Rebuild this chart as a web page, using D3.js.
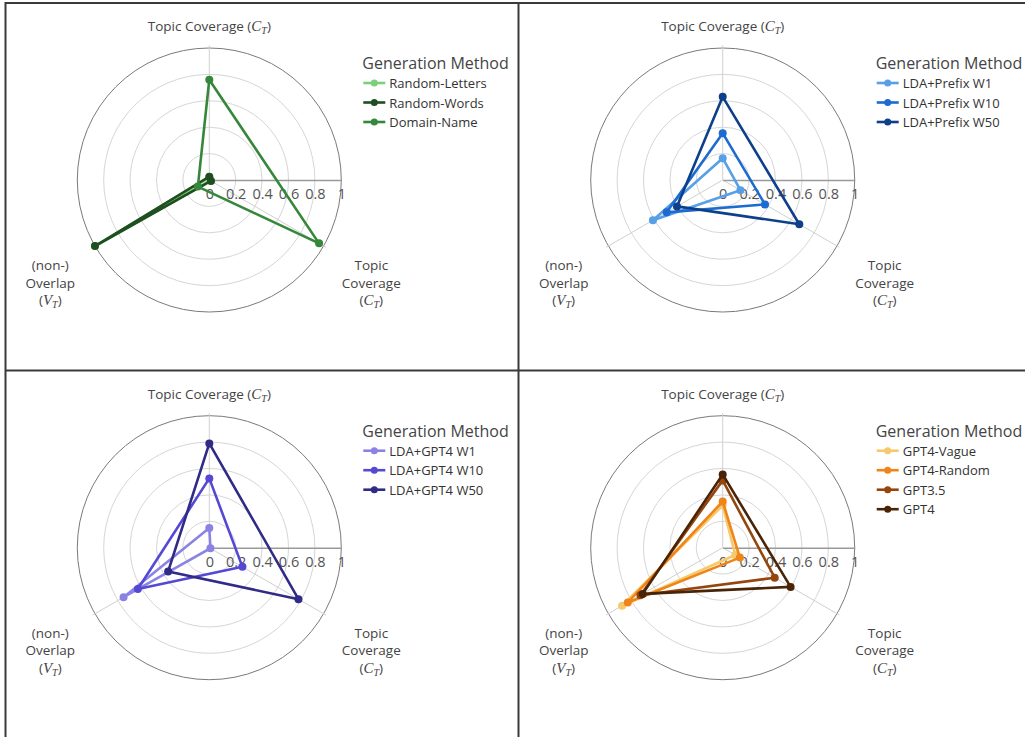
<!DOCTYPE html>
<html><head><meta charset="utf-8">
<script src="https://cdn.jsdelivr.net/npm/d3@7"></script>
<style>
body{margin:0;background:#fff;}
svg{display:block;font-family:"Open Sans",sans-serif;}
</style></head>
<body><svg id="c" width="1025" height="737"></svg>
<script>
// ---- data ----
const axisNames = ["Topic Coverage", "Topic Coverage", "(non-) Overlap"];
const axisSymbols = ["C", "C", "V"];
const tickValues = [0, 0.2, 0.4, 0.6, 0.8, 1];
const legendTitle = "Generation Method";

const p1Names = ["Random-Letters", "Random-Words", "Domain-Name"];
const p1Values = [[0.02, 0.01, 1.0], [0.025, 0.015, 1.0], [0.76, 0.96, 0.10]];
const p1Colors = ["#7ccf7c", "#1f4f20", "#35873a"];

const p2Names = ["LDA+Prefix W1", "LDA+Prefix W10", "LDA+Prefix W50"];
const p2Values = [[0.165, 0.155, 0.61], [0.355, 0.37, 0.49], [0.63, 0.67, 0.40]];
const p2Colors = ["#579fe6", "#1c6bd0", "#0d3f8a"];

const p3Names = ["LDA+GPT4 W1", "LDA+GPT4 W10", "LDA+GPT4 W50"];
const p3Values = [[0.15, 0.01, 0.75], [0.525, 0.29, 0.625], [0.79, 0.78, 0.36]];
const p3Colors = ["#8b83e3", "#5548d4", "#2f2b86"];

const p4Names = ["GPT4-Vague", "GPT4-Random", "GPT3.5", "GPT4"];
const p4Values = [[0.32, 0.11, 0.88], [0.35, 0.15, 0.83], [0.51, 0.455, 0.72], [0.555, 0.594, 0.70]];
const p4Colors = ["#f6c96c", "#ef8519", "#94460c", "#4a2406"];

// ---- drawing ----
const svg = d3.select("#c");
const R = 132;
const r = d3.scaleLinear().domain([0, 1]).range([0, R]);
const angles = [-90, 30, 150].map(a => a * Math.PI / 180);

// borders
const bc = "#3a3a3a";
svg.append("line").attr("x1", 5).attr("x2", 1025).attr("y1", 3).attr("y2", 3).attr("stroke", bc).attr("stroke-width", 2);
svg.append("line").attr("x1", 5.5).attr("x2", 5.5).attr("y1", 2).attr("y2", 737).attr("stroke", bc).attr("stroke-width", 2);
svg.append("line").attr("x1", 518.5).attr("x2", 518.5).attr("y1", 2).attr("y2", 737).attr("stroke", bc).attr("stroke-width", 2);
svg.append("line").attr("x1", 5).attr("x2", 1025).attr("y1", 370.5).attr("y2", 370.5).attr("stroke", bc).attr("stroke-width", 2);

function mathLabel(text, sym) {
  text.append("tspan").text("(");
  text.append("tspan").attr("font-family", "'Liberation Serif',serif").attr("font-style", "italic").attr("font-size", 15).text(sym);
  text.append("tspan").attr("font-family", "'Liberation Serif',serif").attr("font-style", "italic").attr("font-size", 10).attr("dy", 3).text("T");
  text.append("tspan").attr("dy", -3).text(")");
}

function panel(cx, cy, names, values, colors) {
  const g = svg.append("g").attr("transform", `translate(${cx},${cy})`);
  // grid circles
  g.selectAll("circle.grid").data(tickValues.slice(1)).join("circle")
    .attr("r", d => r(d)).attr("fill", "none")
    .attr("stroke", d => d === 1 ? "#7a7a7a" : "#d6d6d6").attr("stroke-width", 1);
  // spokes
  g.selectAll("line.spoke").data(angles).join("line")
    .attr("x1", 0).attr("y1", 0)
    .attr("x2", a => Math.cos(a) * r(1.02)).attr("y2", a => Math.sin(a) * r(1.02))
    .attr("stroke", "#d0d0d0").attr("stroke-width", 1);
  // radial axis
  const ax = g.append("g").call(d3.axisBottom(r).tickValues(tickValues).tickFormat(d3.format("~g")).tickSize(0).tickPadding(9));
  ax.select(".domain").attr("stroke", "#9a9a9a").attr("stroke-width", 1.5);
  ax.selectAll("text").attr("font-family", "'Open Sans',sans-serif").attr("font-size", 14.5).attr("fill", "#555");
  // axis labels
  const t0 = g.append("text").attr("x", 0).attr("y", -149).attr("text-anchor", "middle").attr("font-size", 13.5).attr("fill", "#444");
  t0.append("tspan").text(axisNames[0] + " ");
  mathLabel(t0, axisSymbols[0]);
  const side = [[162, axisNames[1].split(" "), axisSymbols[1]], [-159, axisNames[2].split(" "), axisSymbols[2]]];
  side.forEach(([dx, words, sym]) => {
    words.forEach((w, i) => {
      g.append("text").attr("x", dx).attr("y", 90 + i * 17.5).attr("text-anchor", "middle").attr("font-size", 13.5).attr("fill", "#444").text(w);
    });
    const t = g.append("text").attr("x", dx).attr("y", 125).attr("text-anchor", "middle").attr("font-size", 13.5).attr("fill", "#444");
    mathLabel(t, sym);
  });
  // series
  const line = d3.lineRadial().angle((d, i) => angles[i] + Math.PI / 2).radius(d => r(d)).curve(d3.curveLinearClosed);
  values.forEach((vals, si) => {
    g.append("path").attr("d", line(vals)).attr("fill", "none").attr("stroke", colors[si]).attr("stroke-width", 2.6).attr("stroke-linejoin", "round");
    g.selectAll(null).data(vals).join("circle")
      .attr("cx", (d, i) => Math.cos(angles[i]) * r(d)).attr("cy", (d, i) => Math.sin(angles[i]) * r(d))
      .attr("r", 4).attr("fill", colors[si]);
  });
  // legend
  const lg = g.append("g").attr("transform", "translate(153,0)");
  lg.append("text").attr("x", 0).attr("y", -111).attr("font-size", 16).attr("fill", "#444").text(legendTitle);
  names.forEach((n, i) => {
    const y = -97 + i * 19.5;
    lg.append("line").attr("x1", 1).attr("x2", 23).attr("y1", y).attr("y2", y).attr("stroke", colors[i]).attr("stroke-width", 2.6);
    lg.append("circle").attr("cx", 12).attr("cy", y).attr("r", 3.5).attr("fill", colors[i]);
    lg.append("text").attr("x", 27).attr("y", y + 5).attr("font-size", 13).attr("fill", "#333").text(n);
  });
}

panel(209.3, 180, p1Names, p1Values, p1Colors);
panel(722.7, 180, p2Names, p2Values, p2Colors);
panel(209.3, 547.7, p3Names, p3Values, p3Colors);
panel(722.7, 547.7, p4Names, p4Values, p4Colors);
</script></body></html>
